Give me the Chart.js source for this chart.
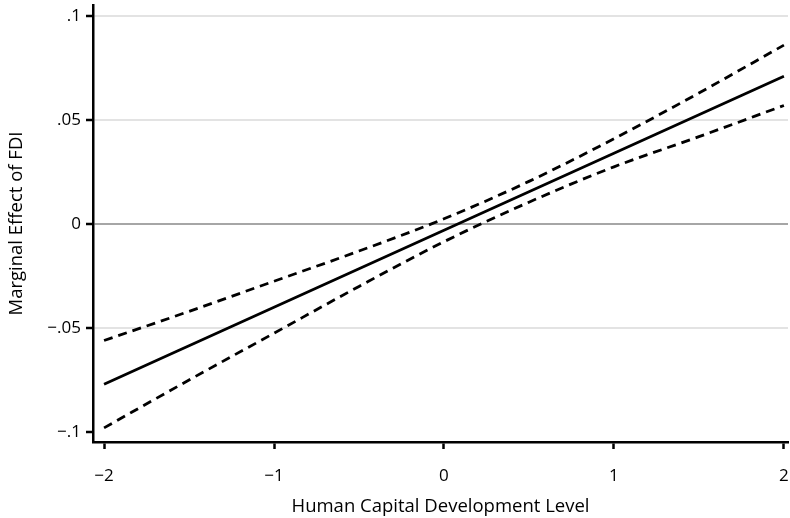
<!DOCTYPE html>
<html>
<head>
<meta charset="utf-8">
<script src="https://cdn.jsdelivr.net/npm/chart.js@4/dist/chart.umd.min.js"></script>
<style>
  html, body { margin: 0; padding: 0; background: #fff; }
  #wrap { width: 790px; height: 518px; }
</style>
</head>
<body>
<div id="wrap"><canvas id="chart" width="790" height="518"></canvas></div>
<script>
// values
const xs = [-2, -1.5, -1, -0.5, 0, 0.5, 1, 1.5, 2];
const effect = [-0.077, -0.0585, -0.040, -0.0215, -0.003, 0.0155, 0.034, 0.0525, 0.071];
const upper = [-0.056, -0.042, -0.0275, -0.013, 0.0025, 0.0205, 0.041, 0.063, 0.086];
const lower = [-0.098, -0.075, -0.0525, -0.030, -0.0085, 0.0105, 0.0275, 0.042, 0.057];
const xTicks = [-2, -1, 0, 1, 2];
const yTicks = [-0.1, -0.05, 0, 0.05, 0.1];

const FONT = "'Open Sans', 'Noto Sans', sans-serif";

function pts(ys) { return xs.map((x, i) => ({ x: x, y: ys[i] })); }

function fmtY(v) {
    if (Math.abs(v) < 1e-9) return '0';
    const s = String(Math.abs(+v.toFixed(3))).replace(/^0/, '');
    return (v < 0 ? '\u2212' : '') + s;
}
function fmtX(v) { return (v < 0 ? '\u2212' : '') + Math.abs(v); }

const lineBase = { borderColor: '#000', borderWidth: 2.8, pointRadius: 0, fill: false, cubicInterpolationMode: 'monotone' };

new Chart(document.getElementById('chart'), {
    type: 'line',
    data: {
        datasets: [
            Object.assign({ data: pts(upper), borderDash: [9, 6] }, lineBase),
            Object.assign({ data: pts(effect) }, lineBase),
            Object.assign({ data: pts(lower), borderDash: [9, 6] }, lineBase)
        ]
    },
    options: {
        responsive: false, animation: false,
        layout: { padding: { top: 5, right: 2, left: 2, bottom: 0 } },
        plugins: { legend: { display: false }, tooltip: { enabled: false } },
        scales: {
            x: {
                type: 'linear', min: -2.065, max: 2.024,
                afterBuildTicks: s => { s.ticks = xTicks.map(v => ({ value: v })); },
                afterFit: s => { s.height = 76; s.paddingLeft = 0; s.paddingRight = 0; },
                border: { color: '#000', width: 2.5 },
                grid: { drawOnChartArea: false, drawTicks: true, tickLength: 7, tickColor: '#000', tickWidth: 2.5 },
                ticks: { color: '#000', padding: 17, font: { family: FONT, size: 17 }, callback: v => fmtX(v), maxRotation: 0 },
                title: { display: true, text: 'Human Capital Development Level', color: '#000', font: { family: FONT, size: 18.5 }, padding: { top: 0, bottom: 0 } }
            },
            y: {
                min: -0.1048, max: 0.1053,
                afterBuildTicks: s => { s.ticks = yTicks.map(v => ({ value: v })); },
                afterFit: s => { s.width = 91; s.paddingTop = 0; s.paddingBottom = 0; },
                border: { color: '#000', width: 2.5 },
                grid: {
                    drawTicks: true, tickLength: 7, tickWidth: 2.5,
                    tickColor: '#000',
                    lineWidth: 2,
                    color: ctx => {
                        const v = ctx.tick ? ctx.tick.value : null;
                        if (v === null) return 'rgba(0,0,0,0)';
                        if (Math.abs(v) < 1e-9) return '#a6a6a6';
                        if (v < -0.09) return 'rgba(0,0,0,0)';
                        return '#e3e3e3';
                    }
                },
                ticks: { color: '#000', padding: 5, font: { family: FONT, size: 17 }, callback: v => fmtY(v) },
                title: { display: true, text: 'Marginal Effect of FDI', color: '#000', font: { family: FONT, size: 18.5 }, padding: { top: 4, bottom: 2 } }
            }
        }
    }
});
</script>
</body>
</html>
